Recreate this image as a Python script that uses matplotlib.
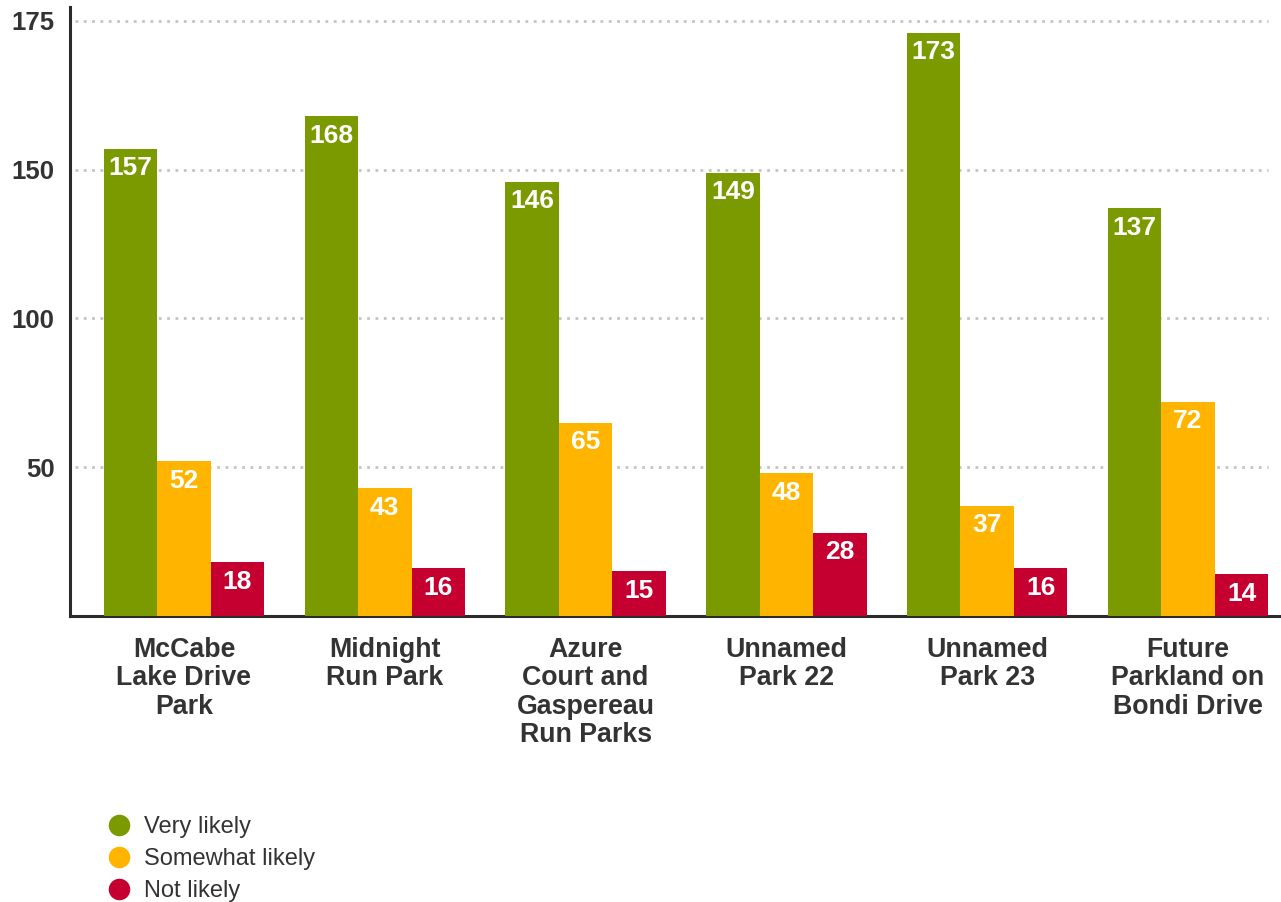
import numpy as np
import matplotlib
matplotlib.use("Agg")
import matplotlib.pyplot as plt
from matplotlib.lines import Line2D

## Data
parks = ["McCabe\nLake Drive\nPark", "Midnight\nRun Park", "Azure\nCourt and\nGaspereau\nRun Parks",
         "Unnamed\nPark 22", "Unnamed\nPark 23", "Future\nParkland on\nBondi Drive"]
veryLikely = [157, 168, 146, 149, 173, 137]
somewhatLikely = [52, 43, 65, 48, 37, 72]
notLikely = [18, 16, 15, 28, 16, 14]
seriesNames = ["Very likely", "Somewhat likely", "Not likely"]
yTicks = [50, 100, 150, 175]

# Colours
green = "#7b9a00"
orange = "#ffb500"
red = "#c50031"
textCol = "#333333"

plt.rcParams['font.family'] = ['Liberation Sans', 'DejaVu Sans']

# The source chart stretches the top of its value axis (175 sits where 200 would)
scaleIn = [0, 168, 173, 175, 185]
scaleOut = [0, 168, 196, 200, 210]
def fwd(v):
    return np.interp(v, scaleIn, scaleOut)
def inv(v):
    return np.interp(v, scaleOut, scaleIn)

fig = plt.figure(figsize=(12.81, 9.02), dpi=100)
ax = fig.add_axes([70/1281, (902-616)/902, (1281-70)/1281, (616-7)/902])
ax.set_yscale('function', functions=(fwd, inv))

x = np.arange(len(parks))
w = 0.2665
groups = [(veryLikely, green), (somewhatLikely, orange), (notLikely, red)]
for k, (vals, col) in enumerate(groups):
    pos = x + (k - 1) * w
    ax.bar(pos, vals, width=w, color=col, zorder=3)
    for px, v in zip(pos, vals):
        ax.annotate(str(v), (px, v), xytext=(0, -14), textcoords='offset points',
                    ha='center', va='center', color='white', fontsize=19,
                    fontweight='bold', zorder=4)

xLeft = (70 - 184) / 200.8
xRight = (1281 - 184) / 200.8
ax.set_xlim(xLeft, xRight)
ax.set_ylim(0, 179.7)

# dotted gridlines
ax.hlines(yTicks, xLeft + 0.025, x[-1] + 1.5 * w, colors="#c4c4c4",
          linestyles=(0, (1, 2)), linewidth=2, zorder=1)

ax.set_yticks(yTicks)
ax.set_yticklabels([str(t) for t in yTicks])
ax.yaxis.set_minor_locator(matplotlib.ticker.NullLocator())
ax.set_xticks(x)
ax.set_xticklabels(parks, linespacing=1.12)
ax.tick_params(axis='y', length=0, pad=11, labelsize=18.5, labelcolor=textCol)
ax.tick_params(axis='x', length=0, pad=15, labelsize=19.3, labelcolor=textCol)
for lab in ax.get_yticklabels() + ax.get_xticklabels():
    lab.set_fontweight('bold')

for s in ['top', 'right']:
    ax.spines[s].set_visible(False)
for s in ['left', 'bottom']:
    ax.spines[s].set_color("#2b2b2b")
    ax.spines[s].set_linewidth(2.2)

handles = [Line2D([], [], marker='o', linestyle='none', markersize=14.5,
                  markerfacecolor=c, markeredgecolor=c) for _, c in groups]
leg = fig.legend(handles, seriesNames, loc='upper left', bbox_to_anchor=(107.5/1281, (902-816)/902),
                 frameon=False, fontsize=17, borderaxespad=0, borderpad=0,
                 handlelength=1.0, handletextpad=0.55, labelspacing=0.42)
for t in leg.get_texts():
    t.set_color(textCol)

fig.savefig("out.png", dpi=100)
